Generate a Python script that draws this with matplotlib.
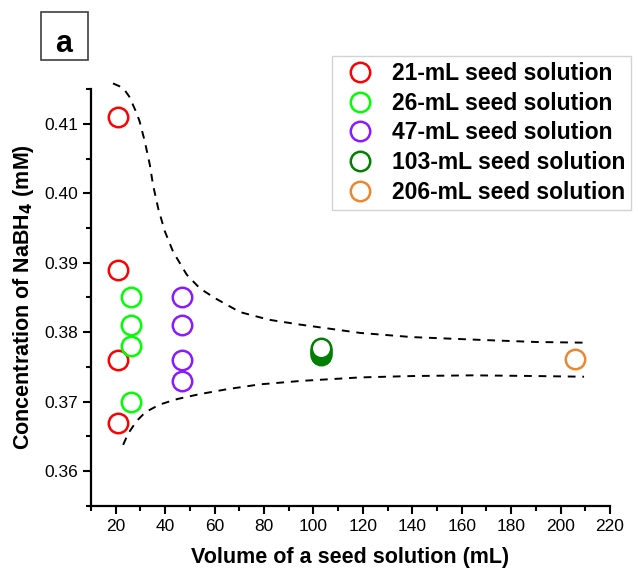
import matplotlib
matplotlib.use('Agg')
import matplotlib.pyplot as plt
from matplotlib.patches import Rectangle
from matplotlib.ticker import MultipleLocator

plt.rcParams['font.family'] = ['Liberation Sans', 'DejaVu Sans']

# data
vol_21 = [21, 21, 21, 21]
conc_21 = [0.411, 0.389, 0.376, 0.367]
vol_26 = [26, 26, 26, 26]
conc_26 = [0.385, 0.381, 0.378, 0.370]
vol_47 = [47, 47, 47, 47]
conc_47 = [0.385, 0.381, 0.376, 0.373]
vol_103 = [103, 103, 103, 103, 103, 103]
conc_103 = [0.3767, 0.3769, 0.3771, 0.3773, 0.3775, 0.3778]
vol_206 = [206]
conc_206 = [0.3762]

# dashed guide curves
upper_x = [18.9, 21.5, 23.7, 25.5, 27, 28.5, 29.7, 31.8, 33.8, 35.1, 37.2, 39.9, 43.2, 48.7, 54.1, 60.2,
           70.3, 82, 94.6, 119, 140, 167.7, 190, 209.5]
upper_y = [0.4158, 0.4154, 0.4148, 0.4139, 0.4127, 0.4115, 0.4103, 0.4074, 0.4041, 0.4012, 0.3978, 0.3945,
           0.3916, 0.3883, 0.3863, 0.3849, 0.3829, 0.3818, 0.3811, 0.3799, 0.3793, 0.3789, 0.3786, 0.3785]
lower_x = [23, 25, 28.4, 32, 37.8, 45, 54, 65, 78.3, 95, 118.8, 140, 164.5, 190, 209.5]
lower_y = [0.3638, 0.3654, 0.3672, 0.3685, 0.3696, 0.3704, 0.3711, 0.3718, 0.3725, 0.3730, 0.3735, 0.3737,
           0.3738, 0.3737, 0.3736]

series = [
    (vol_21, conc_21, '#ff0000', 'none', '21-mL seed solution'),
    (vol_26, conc_26, '#00ff00', 'none', '26-mL seed solution'),
    (vol_47, conc_47, '#8a1aff', 'none', '47-mL seed solution'),
    (vol_103, conc_103, '#007f00', 'white', '103-mL seed solution'),
    (vol_206, conc_206, '#f0852d', 'none', '206-mL seed solution'),
]

fig = plt.figure(figsize=(6.38, 5.73), dpi=100)
ax = fig.add_axes([91 / 638, 1 - 506 / 573, (610 - 91) / 638, (506 - 89) / 573])

ax.plot(upper_x, upper_y, color='black', ls=(0, (4, 3.5)), lw=1.4, clip_on=False)
ax.plot(lower_x, lower_y, color='black', ls=(0, (4, 3.5)), lw=1.4, clip_on=False)

for xs, ys, c, fc, lab in series:
    ax.plot(xs, ys, 'o', ms=14, mfc=fc, mec=c, mew=1.8, label=lab, ls='none')

ax.set_xlim(10, 220)
ax.set_ylim(0.355, 0.415)
ax.set_xticks(range(20, 221, 20))
ax.xaxis.set_minor_locator(MultipleLocator(10))
ax.set_yticks([0.36, 0.37, 0.38, 0.39, 0.40, 0.41])
ax.set_yticklabels(['0.36', '0.37', '0.38', '0.39', '0.40', '0.41'])
ax.yaxis.set_minor_locator(MultipleLocator(0.005))

for s in ['top', 'right']:
    ax.spines[s].set_visible(False)
for s in ['left', 'bottom']:
    ax.spines[s].set_linewidth(1.6)
ax.tick_params(which='major', direction='out', length=6, width=1.5, labelsize=12.5)
ax.tick_params(which='minor', direction='out', length=3.5, width=1.5)

ax.set_xlabel('Volume of a seed solution (mL)', fontsize=15.5, fontweight='bold', labelpad=9)
ax.set_ylabel('Concentration of NaBH$_\\mathbf{4}$ (mM)', fontsize=15.5, fontweight='bold', labelpad=6)

leg = ax.legend(loc='upper left', bbox_to_anchor=(332 / 638, 1 - 56 / 573),
                bbox_transform=fig.transFigure, frameon=True, fancybox=False,
                prop={'weight': 'bold', 'size': 16.5}, handletextpad=0.44,
                labelspacing=0.3, borderpad=0.25, handlelength=1.92, borderaxespad=0,
                markerscale=1.0)
leg.get_frame().set_edgecolor('#c8c8c8')
leg.get_frame().set_linewidth(1.0)

# panel label box
fig.add_artist(Rectangle((41 / 638, 1 - 60 / 573), 47 / 638, 48 / 573, transform=fig.transFigure,
                         fc='white', ec='#404040', lw=1.2))
fig.text(64 / 638, 1 - 52 / 573, 'a', fontsize=22, fontweight='bold', ha='center', va='baseline')

fig.savefig('out.png', dpi=100)
